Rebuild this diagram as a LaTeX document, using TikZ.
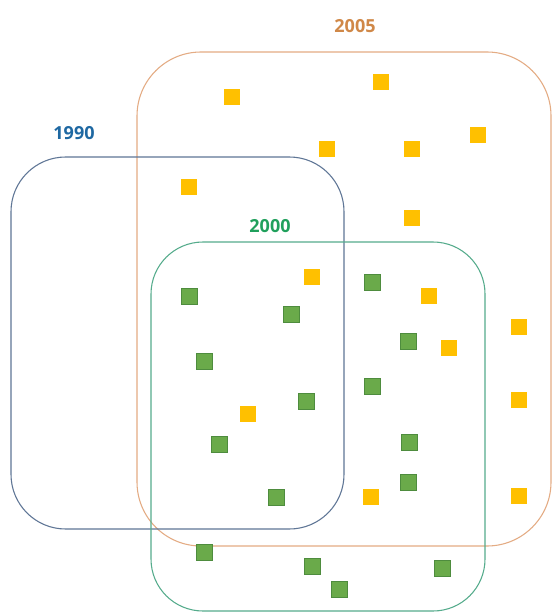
\documentclass[tikz,border=0pt]{standalone}
\usepackage{fontspec}
\setsansfont{Open Sans}
\usepackage{xcolor}
\usetikzlibrary{positioning}
\definecolor{lineorange}{RGB}{228,172,132}
\definecolor{lineblue}{RGB}{95,118,150}
\definecolor{linegreen}{RGB}{85,172,140}
\definecolor{txtorange}{RGB}{208,136,72}
\definecolor{txtblue}{RGB}{30,104,162}
\definecolor{txtgreen}{RGB}{32,160,92}
\definecolor{dotyellow}{RGB}{255,192,0}
\definecolor{dotgreen}{RGB}{106,170,74}
\definecolor{dotgreenedge}{RGB}{78,140,62}

\begin{document}
\begin{tikzpicture}[x=0.75pt,y=-0.75pt,
  ring/.style={line width=0.8pt},
  lbl/.style={font=\sffamily\bfseries\fontsize{13.5}{16}\selectfont, inner sep=0pt},
  sq/.style={minimum size=12pt, inner sep=0pt},
  sqy/.style={sq, fill=dotyellow},
  sqg/.style={sq, fill=dotgreen, draw=dotgreenedge, line width=0.6pt}]
\useasboundingbox[fill=white] (0,0) rectangle (552,613);
% year sets
\draw[ring, draw=lineorange, rounded corners=48pt] (137,52) rectangle (551,546);
\draw[ring, draw=lineblue, rounded corners=41pt] (11,157) rectangle (344,529);
\draw[ring, draw=linegreen, rounded corners=39pt] (151,242) rectangle (485,611);
\node[lbl, txtorange] (l2005) at (355,26) {2005};
\node[lbl, txtblue] (l1990) at (74,133) {1990};
\node[lbl, txtgreen] (l2000) at (270,226) {2000};
% yellow items
\foreach \x/\y [count=\i] in {232/97,381/82,327/149,412/149,478/135,189/187,412/218,
  312/277,429/296,449/348,519/327,519/400,519/496,248/414,371/497}
  \node[sqy] (y\i) at (\x,\y) {};
% green items
\foreach \x/\y [count=\i] in {189/296,291/314,204/361,372/282,408/341,306/401,372/386,
  219/444,409/442,408/482,276/497,204/552,312/566,339/589,442/568}
  \node[sqg] (g\i) at (\x,\y) {};
\end{tikzpicture}
\end{document}
